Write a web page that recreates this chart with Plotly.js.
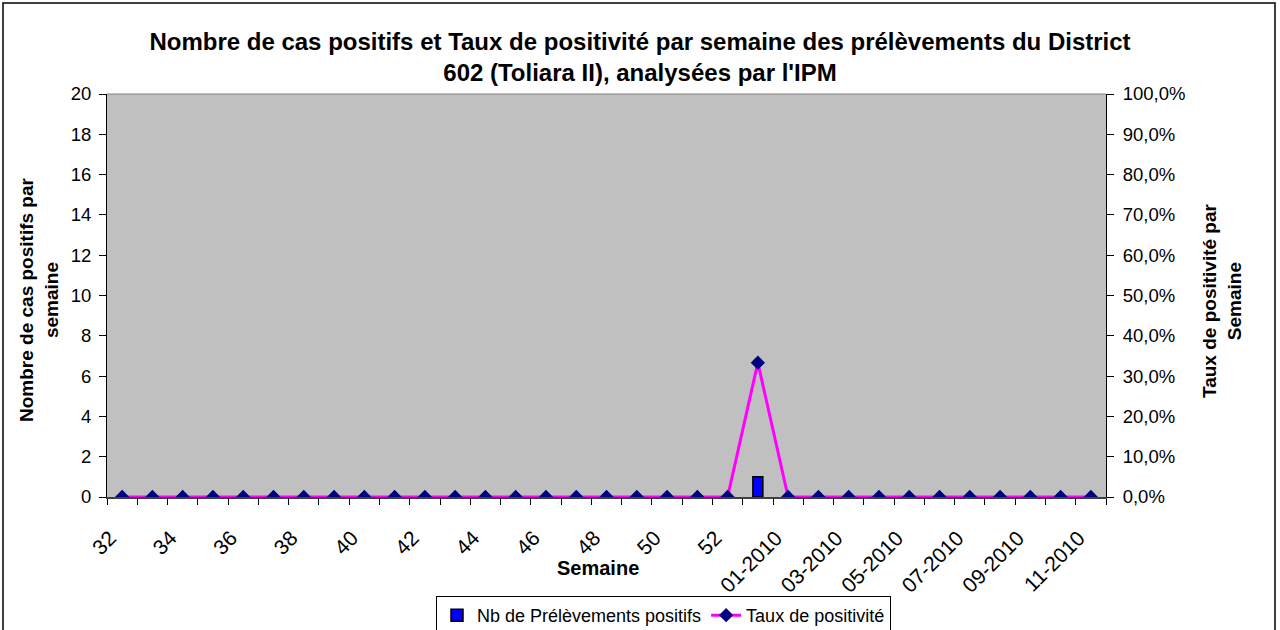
<!DOCTYPE html>
<html>
<head>
<meta charset="utf-8">
<script src="https://cdn.plot.ly/plotly-3.0.1.min.js"></script>
<style>
html,body{margin:0;padding:0;background:#fff;}
#chart{width:1280px;height:630px;}
</style>
</head>
<body>
<div id="chart"></div>
<script>
// Data
const semaines = ['32','33','34','35','36','37','38','39','40','41','42','43','44','45','46','47','48','49','50','51','52','53',
  '01-2010','02-2010','03-2010','04-2010','05-2010','06-2010','07-2010','08-2010','09-2010','10-2010','11-2010'];
const nbPositifs = [0,0,0,0,0,0,0,0,0,0,0,0,0,0,0,0,0,0,0,0,0,1,0,0,0,0,0,0,0,0,0,0,0];
const tauxPositivite = [0,0,0,0,0,0,0,0,0,0,0,0,0,0,0,0,0,0,0,0,0,0.3333,0,0,0,0,0,0,0,0,0,0,0];

const idx = semaines.map((_, i) => i);
const labelIdx = idx.filter(i => i % 2 === 0);
const labelText = labelIdx.map(i => semaines[i]);
const labelPos = labelIdx.map(i => i - 0.4);   // rotated labels end slightly left of the category centre
const boundaries = idx.map(i => i - 0.5).concat([semaines.length - 0.5]);

const FONT = 'Arial, "Liberation Sans", sans-serif';

const L = 107, R = 174, T = 94, B = 133;
const W = 1280 - L - R, H = 630 - T - B;
const px = x => (x - L) / W;
const py = y => (630 - B - y) / H;

const traces = [
  {
    type: 'bar', name: 'Nb de Prélèvements positifs',
    x: idx, y: nbPositifs, yaxis: 'y',
    width: 0.33,
    marker: {color: '#0000FF', line: {color: '#000000', width: 1.5}}
  },
  {
    type: 'scatter', mode: 'lines+markers', name: 'Taux de positivité',
    x: idx, y: tauxPositivite, yaxis: 'y2',
    line: {color: '#FF00FF', width: 3},
    marker: {symbol: 'diamond', size: 11, color: '#000080'}
  }
];

const layout = {
  width: 1280, height: 630,
  margin: {l: L, r: R, t: T, b: B, autoexpand: false},
  paper_bgcolor: '#FFFFFF', plot_bgcolor: '#C0C0C0',
  separators: ', ',
  font: {family: FONT, size: 18, color: '#000'},
  showlegend: true,
  title: {
    text: 'Nombre de cas positifs et Taux de positivité par semaine des prélèvements du District<br>602 (Toliara II), analysées par l\'IPM',
    font: {family: FONT, size: 24, color: '#000', weight: 'bold'},
    x: 0.5, xanchor: 'center', xref: 'container',
    y: (630 - 50) / 630, yanchor: 'middle', yref: 'container'
  },
  xaxis: {
    range: [-0.5, semaines.length - 0.5],
    tickmode: 'array', tickvals: labelPos, ticktext: labelText,
    tickangle: -45, ticks: '', ticklabelstandoff: 19,
    tickfont: {family: FONT, size: 21, color: '#000'},
    showgrid: false, zeroline: false, automargin: false,
    showline: true, linecolor: '#404040', linewidth: 1.5,
    minor: {tickmode: 'array', tickvals: boundaries, ticks: 'outside', ticklen: 6, tickcolor: '#000', tickwidth: 1, showgrid: false},
    fixedrange: true
  },
  yaxis: {
    range: [0, 20], dtick: 2, tick0: 0,
    ticks: 'outside', ticklen: 7, tickcolor: '#000', ticklabelstandoff: 4,
    tickfont: {family: FONT, size: 18.5, color: '#000'},
    showgrid: false, zeroline: false, automargin: false,
    showline: true, linecolor: '#000', linewidth: 1,
    fixedrange: true
  },
  yaxis2: {
    overlaying: 'y', side: 'right',
    range: [0, 1], dtick: 0.1, tick0: 0, tickformat: '.1%',
    ticks: 'outside', ticklen: 7, tickcolor: '#000', ticklabelstandoff: 5,
    tickfont: {family: FONT, size: 18.5, color: '#000'},
    showgrid: false, zeroline: false, automargin: false,
    showline: true, linecolor: '#000', linewidth: 1,
    fixedrange: true
  },
  legend: {
    orientation: 'h',
    x: px(663.5), xanchor: 'center', xref: 'paper',
    y: py(596), yanchor: 'top', yref: 'paper',
    bordercolor: '#000', borderwidth: 1, bgcolor: '#FFFFFF',
    font: {family: FONT, size: 18, color: '#000'},
    traceorder: 'normal'
  },
  annotations: [
    {text: 'Nombre de cas positifs par<br>semaine', textangle: -90, showarrow: false,
     xref: 'paper', yref: 'paper', x: px(39), y: py(300), xanchor: 'center', yanchor: 'middle',
     font: {family: FONT, size: 19, color: '#000', weight: 'bold'}},
    {text: 'Taux de positivité par<br>Semaine', textangle: -90, showarrow: false,
     xref: 'paper', yref: 'paper', x: px(1222), y: py(301), xanchor: 'center', yanchor: 'middle',
     font: {family: FONT, size: 19, color: '#000', weight: 'bold'}},
    {text: 'Semaine', showarrow: false,
     xref: 'paper', yref: 'paper', x: px(598), y: py(568), xanchor: 'center', yanchor: 'middle',
     font: {family: FONT, size: 20, color: '#000', weight: 'bold'}}
  ],
  shapes: [
    {type: 'line', xref: 'paper', yref: 'paper', x0: 0, x1: 1, y0: 1, y1: 1,
     line: {color: '#808080', width: 1}},
    {type: 'rect', xref: 'paper', yref: 'paper', x0: px(3), x1: px(1275), y0: py(3), y1: py(650),
     line: {color: '#000', width: 1.5}, fillcolor: 'rgba(0,0,0,0)', layer: 'above'}
  ]
};

Plotly.newPlot('chart', traces, layout, {displayModeBar: false, staticPlot: true});
</script>
</body>
</html>
